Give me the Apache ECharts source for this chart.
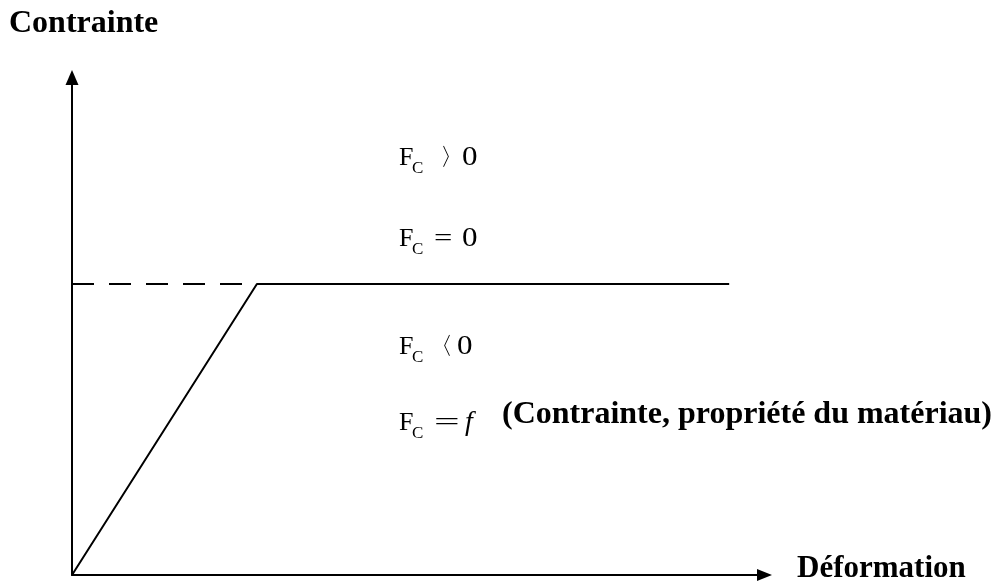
<!DOCTYPE html>
<html>
<head>
<meta charset="utf-8">
<title>Contrainte – Déformation</title>
<script src="https://cdn.jsdelivr.net/npm/echarts@6/dist/echarts.min.js"></script>
<style>
  html, body { margin: 0; padding: 0; background: #fff; }
  #chart { width: 998px; height: 585px; }
</style>
</head>
<body>
<div id="chart"></div>
<script>
// Elastic–perfectly plastic behaviour: linear rise, then a plateau at the yield stress.
var strainPoints = [0, 26.7, 94.9];          // déformation (relative units)
var stressPoints = [0, 58.5, 58.5];          // contrainte (relative units)
var yieldStrain = [0, 26.7];                 // dashed reference at the yield level
var yieldStress = [58.5, 58.5];
var axisMax = { x: 100, y: 100 };
var axisTitles = { y: 'Contrainte', x: 'Déformation' };
var relations = ['〉', '=', '〈', '='];
var rightHandSides = ['0', '0', '0', 'f'];
var propertyNote = '(Contrainte, propriété du matériau)';

function pairs(xs, ys) {
  return xs.map(function (x, i) { return [x, ys[i]]; });
}

var serif = '"Liberation Serif", "DejaVu Serif", serif';
var chart = echarts.init(document.getElementById('chart'), null, { renderer: 'canvas' });

// One text run placed by its left edge and its baseline.
function glyph(text, x, baseline, size, opts) {
  opts = opts || {};
  return {
    type: 'text',
    x: x,
    // the box bottom sits below the baseline by the font's descent share
    y: baseline + size * 0.195,
    scaleX: opts.scaleX || 1,
    style: {
      text: text,
      font: (opts.weight || '') + ' ' + (opts.italic ? 'italic ' : '') + size + 'px ' + serif,
      fill: '#000',
      align: 'left',
      verticalAlign: 'bottom',
      lineHeight: size
    }
  };
}

// Rows of "F" with subscript "C", then a relation sign and a right-hand side.
var rows = [
  { base: 166, relX: 440, relScale: 1.0, rhsX: 462, rhsScale: 1.15 },
  { base: 247, relX: 434, relScale: 1.25, rhsX: 462, rhsScale: 1.15 },
  { base: 355, relX: 429, relScale: 1.0, rhsX: 457, rhsScale: 1.15 },
  { base: 431, relX: 434, relScale: 1.75, rhsX: 465, rhsScale: 1.0 }
];

var graphics = [];
graphics.push(glyph(axisTitles.y, 9, 33, 32, { weight: 'bold' }));
graphics.push(glyph(axisTitles.x, 797, 578, 31, { weight: 'bold' }));
rows.forEach(function (r, i) {
  graphics.push(glyph('F', 399, r.base, 26));
  graphics.push(glyph('C', 412, r.base + 8, 17));
  var isEq = relations[i] === '=';
  graphics.push(glyph(relations[i], r.relX, r.base, isEq ? 26 : 24, { scaleX: r.relScale }));
  var isF = rightHandSides[i] === 'f';
  graphics.push(glyph(rightHandSides[i], r.rhsX, r.base, isF ? 28 : 27,
    { scaleX: r.rhsScale, italic: isF }));
});
graphics.push(glyph(propertyNote, 502, 424, 32, { weight: 'bold' }));

var hiddenAxisParts = {
  axisTick: { show: false },
  axisLabel: { show: false },
  splitLine: { show: false }
};

chart.setOption({
  animation: false,
  backgroundColor: '#fff',
  grid: { left: 72, right: 233.5, top: 77.5, bottom: 10, containLabel: false },
  xAxis: Object.assign({
    type: 'value', min: 0, max: axisMax.x,
    axisLine: { show: true, onZero: false, symbol: ['none', 'triangle'], symbolSize: [12, 15],
      lineStyle: { color: '#000', width: 2 } }
  }, hiddenAxisParts),
  yAxis: Object.assign({
    type: 'value', min: 0, max: axisMax.y,
    axisLine: { show: true, onZero: false, symbol: ['none', 'triangle'], symbolSize: [13, 15],
      lineStyle: { color: '#000', width: 2 } }
  }, hiddenAxisParts),
  series: [
    {
      name: 'yield', type: 'line', data: pairs(yieldStrain, yieldStress),
      showSymbol: false, symbol: 'none', silent: true,
      lineStyle: { color: '#000', width: 2, type: [22, 15] }
    },
    {
      name: 'behaviour', type: 'line', data: pairs(strainPoints, stressPoints),
      showSymbol: false, symbol: 'none', silent: true,
      lineStyle: { color: '#000', width: 2 }
    }
  ],
  graphic: graphics
});
</script>
</body>
</html>
